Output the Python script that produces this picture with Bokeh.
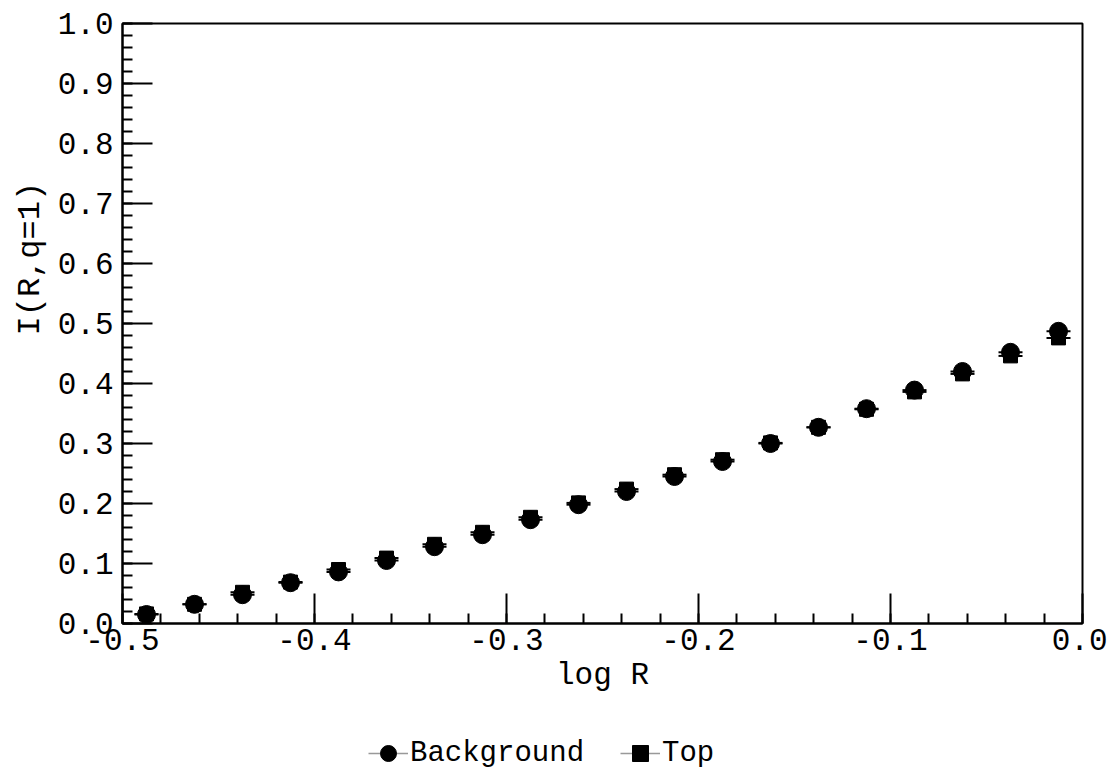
from bokeh.plotting import figure
from bokeh.layouts import column
from bokeh.models import (Range1d, SingleIntervalTicker, NumeralTickFormatter,
                          Legend, LegendItem, Title)
from bokeh.embed import file_html
from bokeh.resources import INLINE

# ---- data ----
log_r = [-0.4875, -0.4625, -0.4375, -0.4125, -0.3875, -0.3625, -0.3375,
         -0.3125, -0.2875, -0.2625, -0.2375, -0.2125, -0.1875, -0.1625,
         -0.1375, -0.1125, -0.0875, -0.0625, -0.0375, -0.0125]
background = [0.015, 0.032, 0.048, 0.068, 0.086, 0.105, 0.128, 0.148, 0.173,
              0.198, 0.220, 0.245, 0.270, 0.300, 0.327, 0.358, 0.389, 0.420,
              0.452, 0.487]
top = [0.016, 0.032, 0.052, 0.069, 0.090, 0.109, 0.132, 0.152, 0.177, 0.201,
       0.224, 0.248, 0.273, 0.301, 0.327, 0.357, 0.386, 0.416, 0.446, 0.476]

x_label = "log R"
y_label = "I(R,q=1)"
series_names = ["Background", "Top"]

FONT = "Liberation Mono"

p = figure(frame_width=960, frame_height=600, output_backend="svg",
           toolbar_location=None,
           x_range=Range1d(-0.5, 0.0), y_range=Range1d(0.0, 1.0),
           min_border_left=122, min_border_right=25, min_border_top=23,
           min_border_bottom=98)
p.background_fill_color = "white"
p.border_fill_color = "white"
p.outline_line_color = "black"
p.outline_line_width = 2
p.outline_line_alpha = 1.0
p.xgrid.visible = False
p.ygrid.visible = False

for ax in (p.xaxis[0], p.yaxis[0]):
    ax.ticker = SingleIntervalTicker(interval=0.1, num_minor_ticks=5)
    ax.formatter = NumeralTickFormatter(format="0.0")
    ax.axis_line_color = "black"
    ax.axis_line_width = 2
    ax.major_tick_in = 30
    ax.major_tick_out = 0
    ax.minor_tick_in = 10
    ax.minor_tick_out = 0
    ax.major_tick_line_color = "black"
    ax.minor_tick_line_color = "black"
    ax.major_tick_line_width = 2
    ax.minor_tick_line_width = 2
    ax.major_label_text_font = FONT
    ax.major_label_text_font_size = "31px"
    ax.major_label_text_color = "black"

p.xaxis.major_label_standoff = 5
p.yaxis.major_label_standoff = 9
p.xaxis.axis_label = x_label
p.xaxis.axis_label_text_font = FONT
p.xaxis.axis_label_text_font_size = "31px"
p.xaxis.axis_label_text_font_style = "normal"
p.xaxis.axis_label_text_color = "black"
p.xaxis.axis_label_standoff = 5

p.add_layout(Title(text=y_label, align="left", offset=288, text_font=FONT,
                   text_font_size="32px", text_font_style="normal",
                   text_color="black", standoff=12), "left")

# error-bar like ticks
p.scatter(log_r, background, marker="dash", size=24, line_color="black",
          line_width=2)
p.scatter(log_r, top, marker="dash", size=24, line_color="black", line_width=2)
p.scatter(log_r, background, marker="circle", size=18,
          fill_color="black", line_color="black")
p.scatter(log_r, top, marker="square", size=14,
          fill_color="black", line_color="black")

# ---- legend strip below the chart ----
lg = figure(width=1107, height=54, output_backend="svg", toolbar_location=None,
            x_range=Range1d(0, 1), y_range=Range1d(0, 1),
            x_axis_type=None, y_axis_type=None,
            min_border_left=0, min_border_right=0, min_border_top=0,
            min_border_bottom=0)
lg.outline_line_color = None
lg.xgrid.visible = False
lg.ygrid.visible = False
lg.background_fill_color = "white"
lg.border_fill_color = "white"

# legend-only renderers (their data lies outside this strip's ranges)
bg_line = lg.line(log_r, background, line_color="#999999", line_width=1.5)
top_line = lg.line(log_r, top, line_color="#999999", line_width=1.5)
bg_mark = lg.scatter(log_r, background, marker="circle", size=18,
                     fill_color="black", line_color="black")
top_mark = lg.scatter(log_r, top, marker="square", size=14,
                      fill_color="black", line_color="black")

legend = Legend(items=[LegendItem(label=series_names[0], renderers=[bg_line, bg_mark]),
                       LegendItem(label=series_names[1], renderers=[top_line, top_mark])],
                orientation="horizontal", location=(246, 0),
                label_text_font=FONT, label_text_font_size="29px",
                label_text_color="black",
                glyph_width=40, glyph_height=44, label_standoff=2, spacing=36,
                border_line_alpha=0, background_fill_alpha=0, padding=0, margin=0)
lg.add_layout(legend, "center")

open("out.html", "w").write(file_html(column(p, lg, spacing=0), INLINE))
